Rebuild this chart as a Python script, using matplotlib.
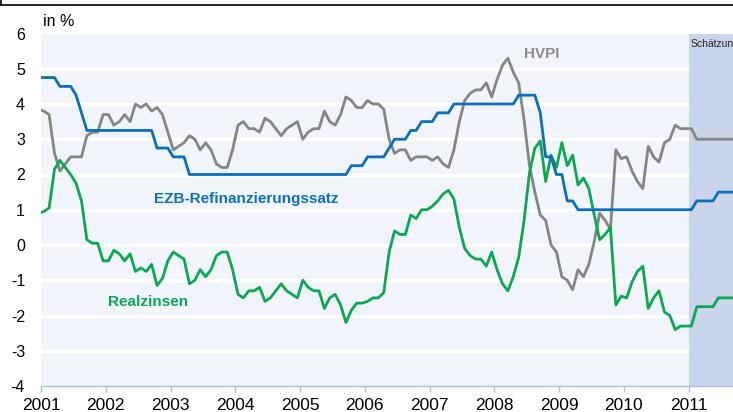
import numpy as np
import matplotlib
matplotlib.use("Agg")
import matplotlib.pyplot as plt
from matplotlib.lines import Line2D

plt.rcParams["font.family"] = ["Liberation Sans", "DejaVu Sans"]

# ── Data: monthly values, Dec 2000 .. Sep 2011 ───────────────────────
first_month = (2000, 12)

refi = [4.75,
        4.75, 4.75, 4.75, 4.5, 4.5, 4.5, 4.25, 3.75, 3.25, 3.25, 3.25, 3.25,      # 2001
        3.25, 3.25, 3.25, 3.25, 3.25, 3.25, 3.25, 3.25, 3.25, 2.75, 2.75, 2.75,   # 2002
        2.5, 2.5, 2.5, 2.0, 2.0, 2.0, 2.0, 2.0, 2.0, 2.0, 2.0, 2.0,               # 2003
        2.0, 2.0, 2.0, 2.0, 2.0, 2.0, 2.0, 2.0, 2.0, 2.0, 2.0, 2.0,               # 2004
        2.0, 2.0, 2.0, 2.0, 2.0, 2.0, 2.0, 2.0, 2.0, 2.25, 2.25, 2.25,            # 2005
        2.5, 2.5, 2.5, 2.5, 2.75, 3.0, 3.0, 3.0, 3.25, 3.25, 3.5, 3.5,            # 2006
        3.5, 3.75, 3.75, 3.75, 4.0, 4.0, 4.0, 4.0, 4.0, 4.0, 4.0, 4.0,            # 2007
        4.0, 4.0, 4.0, 4.0, 4.25, 4.25, 4.25, 4.25, 3.75, 2.5, 2.5, 2.0,          # 2008
        2.0, 1.25, 1.25, 1.0, 1.0, 1.0, 1.0, 1.0, 1.0, 1.0, 1.0, 1.0,             # 2009
        1.0, 1.0, 1.0, 1.0, 1.0, 1.0, 1.0, 1.0, 1.0, 1.0, 1.0, 1.0,               # 2010
        1.0, 1.25, 1.25, 1.25, 1.25, 1.5, 1.5, 1.5, 1.5]                          # 2011

hvpi = [3.85,
        3.8, 3.7, 2.6, 2.1, 2.3, 2.5, 2.5, 2.5, 3.1, 3.2, 3.2, 3.7,               # 2001
        3.7, 3.4, 3.5, 3.7, 3.5, 4.0, 3.9, 4.0, 3.8, 3.9, 3.7, 3.2,               # 2002
        2.7, 2.8, 2.9, 3.1, 3.0, 2.7, 2.9, 2.7, 2.3, 2.2, 2.2, 2.7,               # 2003
        3.4, 3.5, 3.3, 3.3, 3.2, 3.6, 3.5, 3.3, 3.1, 3.3, 3.4, 3.5,               # 2004
        3.0, 3.2, 3.3, 3.3, 3.8, 3.5, 3.4, 3.7, 4.2, 4.1, 3.9, 3.9,               # 2005
        4.1, 4.0, 4.0, 3.85, 3.0, 2.6, 2.7, 2.7, 2.4, 2.5, 2.5, 2.5,              # 2006
        2.4, 2.5, 2.3, 2.2, 2.7, 3.5, 4.1, 4.3, 4.4, 4.4, 4.6, 4.2,               # 2007
        4.7, 5.1, 5.3, 4.9, 4.6, 3.55, 2.25, 1.5, 0.85, 0.7, 0.0, -0.2,           # 2008
        -0.9, -1.0, -1.27, -0.7, -0.9, -0.55, 0.1, 0.9, 0.7, 0.45, 2.7, 2.45,     # 2009
        2.5, 2.1, 1.8, 1.6, 2.8, 2.5, 2.35, 2.9, 3.0, 3.4, 3.3, 3.3,              # 2010
        3.3, 3.0, 3.0, 3.0, 3.0, 3.0, 3.0, 3.0, 3.0]                              # 2011

realzins = [0.9,
            0.95, 1.05, 2.15, 2.4, 2.2, 2.0, 1.75, 1.25, 0.15, 0.05, 0.05, -0.45,        # 2001
            -0.45, -0.15, -0.25, -0.45, -0.25, -0.75, -0.65, -0.75, -0.55, -1.15, -0.95, -0.45,  # 2002
            -0.2, -0.3, -0.4, -1.1, -1.0, -0.7, -0.9, -0.7, -0.3, -0.2, -0.2, -0.7,      # 2003
            -1.4, -1.5, -1.3, -1.3, -1.2, -1.6, -1.5, -1.3, -1.1, -1.3, -1.4, -1.5,      # 2004
            -1.0, -1.2, -1.3, -1.3, -1.8, -1.5, -1.4, -1.7, -2.2, -1.85, -1.65, -1.65,   # 2005
            -1.6, -1.5, -1.5, -1.35, -0.2, 0.4, 0.3, 0.3, 0.85, 0.75, 1.0, 1.0,          # 2006
            1.1, 1.25, 1.45, 1.55, 1.3, 0.5, -0.1, -0.3, -0.4, -0.4, -0.6, -0.2,         # 2007
            -0.7, -1.1, -1.3, -0.9, -0.35, 0.7, 2.05, 2.75, 2.95, 1.8, 2.55, 2.2,        # 2008
            2.9, 2.25, 2.55, 1.7, 1.9, 1.6, 0.85, 0.15, 0.3, 0.5, -1.7, -1.45,           # 2009
            -1.5, -1.05, -0.75, -0.6, -1.8, -1.5, -1.3, -1.9, -2.0, -2.4, -2.3, -2.3,    # 2010
            -2.3, -1.75, -1.75, -1.75, -1.75, -1.5, -1.5, -1.5, -1.5]                    # 2011

years = list(range(2001, 2012))
yticks = list(range(-4, 7))
forecast_start = 2011

# mid-month position as decimal year
n = len(refi)
x = first_month[0] + (first_month[1] - 1 + np.arange(n) + 0.5) / 12

# ── Plot ─────────────────────────────────────────────────────────────
BLUE, GREY, GREEN = "#0a6fbf", "#858585", "#0aa84f"

fig = plt.figure(figsize=(7.33, 4.12), dpi=100)
ax = fig.add_axes([41 / 733, 26 / 412, 692 / 733, 352.5 / 412])
ax.set_facecolor("#f1f5fb")

ax.set_xlim(2001, 2001 + 692 / 64.77)
ax.set_ylim(-4, 6)

for v in yticks[1:-1]:
    ax.axhline(v, color="white", lw=2.3, zorder=1)
ax.axvspan(forecast_start, 2013, color="#c6d1ea", alpha=0.9, lw=0, zorder=2)

ax.plot(x, hvpi, color=GREY, lw=2.0, zorder=4)
ax.plot(x, refi, color=BLUE, lw=2.0, zorder=5)
ax.plot(x, realzins, color=GREEN, lw=2.0, zorder=4)

ax.text(2008.735, 5.42, "HVPI", color="#8c8c8c", fontsize=11, fontweight="bold",
        ha="center", va="center", zorder=6)
ax.text(2004.165, 1.30, "EZB-Refinanzierungssatz", color=BLUE, fontsize=11,
        fontweight="bold", ha="center", va="center", zorder=6)
ax.text(2002.652, -1.62, "Realzinsen", color=GREEN, fontsize=11, fontweight="bold",
        ha="center", va="center", zorder=6)
ax.text(forecast_start + 0.03, 5.83, "Schätzung", color="#222222", fontsize=7.5,
        ha="left", va="top", zorder=6)

ax.set_yticks(yticks)
ax.set_yticklabels([str(v) for v in yticks], fontsize=11.5)
ax.tick_params(axis="y", length=0, pad=11.5)
ax.set_xticks(years)
ax.set_xticklabels([str(y) for y in years], fontsize=12.5)
ax.tick_params(axis="x", direction="out", length=4.5, width=1, color="#a9bfe4", pad=4)

for s in ["top", "right", "left"]:
    ax.spines[s].set_visible(False)
ax.spines["bottom"].set_color("#a9bfe4")
ax.spines["bottom"].set_linewidth(1.0)
ax.spines["bottom"].set_zorder(7)

fig.text(43 / 733, 1 - 21 / 412, "in %", fontsize=11.5, ha="left", va="center")

# frame edge at the top of the picture
fig.add_artist(Line2D([0, 1], [1 - 4.5 / 412] * 2, color="black", lw=1.2))
fig.add_artist(Line2D([0.001, 0.001], [1 - 4.5 / 412, 1], color="black", lw=1.2))

fig.savefig("out.png", dpi=100)
